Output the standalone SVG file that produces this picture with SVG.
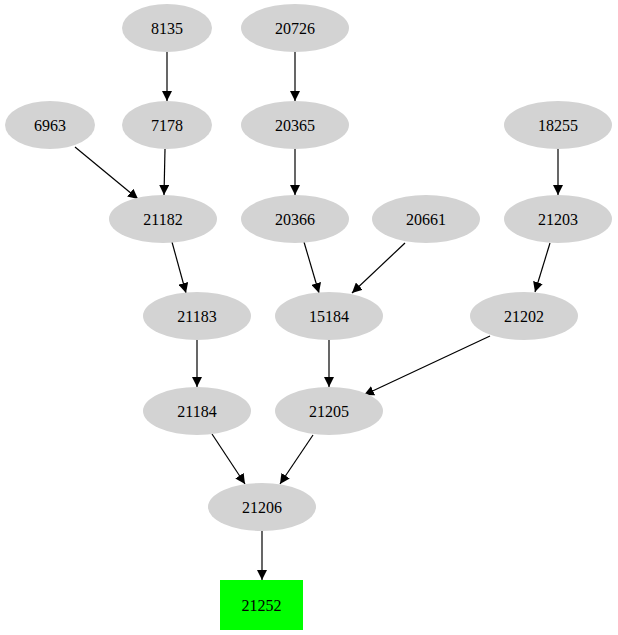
<svg xmlns="http://www.w3.org/2000/svg" width="618" height="635" viewBox="0 0 618 635">
<style>
.n ellipse{fill:#d3d3d3}
.n text{font-family:"Liberation Serif",serif;font-size:16px;text-anchor:middle;dominant-baseline:central;fill:#000}
#edges line{stroke:#000;stroke-width:1.2;marker-end:url(#a)}
</style>
<defs><marker id="a" markerUnits="userSpaceOnUse" markerWidth="12" markerHeight="10" refX="10" refY="5" orient="auto"><path d="M0,0L10,5L0,10z" fill="#000"/></marker></defs>
<rect width="618" height="635" fill="#fff"/>
<g id="edges">
<line x1="167" y1="52" x2="167" y2="101"/>
<line x1="295" y1="52" x2="295" y2="101"/>
<line x1="75" y1="147" x2="138" y2="199"/>
<line x1="165" y1="149" x2="164" y2="195"/>
<line x1="295" y1="149" x2="295" y2="195"/>
<line x1="558" y1="149" x2="558" y2="195"/>
<line x1="172" y1="242" x2="186" y2="293"/>
<line x1="304" y1="242" x2="319" y2="293"/>
<line x1="405" y1="243" x2="352" y2="293"/>
<line x1="550" y1="243" x2="535" y2="292"/>
<line x1="197" y1="340" x2="197" y2="387"/>
<line x1="329" y1="340" x2="329" y2="387"/>
<line x1="490" y1="336" x2="364" y2="395"/>
<line x1="212" y1="434" x2="245" y2="484"/>
<line x1="313" y1="435" x2="280" y2="484"/>
<line x1="262" y1="531" x2="262" y2="580"/>
</g>
<g id="n8135" class="n"><ellipse cx="167" cy="28" rx="45" ry="24"/><text x="167" y="28">8135</text></g>
<g id="n20726" class="n"><ellipse cx="295" cy="28" rx="54" ry="24"/><text x="295" y="28">20726</text></g>
<g id="n6963" class="n"><ellipse cx="50" cy="125" rx="45" ry="24"/><text x="50" y="125">6963</text></g>
<g id="n7178" class="n"><ellipse cx="167" cy="125" rx="45" ry="24"/><text x="167" y="125">7178</text></g>
<g id="n20365" class="n"><ellipse cx="295" cy="125" rx="54" ry="24"/><text x="295" y="125">20365</text></g>
<g id="n18255" class="n"><ellipse cx="558" cy="125" rx="54" ry="24"/><text x="558" y="125">18255</text></g>
<g id="n21182" class="n"><ellipse cx="163" cy="219" rx="54" ry="24"/><text x="163" y="219">21182</text></g>
<g id="n20366" class="n"><ellipse cx="295" cy="219" rx="54" ry="24"/><text x="295" y="219">20366</text></g>
<g id="n20661" class="n"><ellipse cx="426" cy="219" rx="54" ry="24"/><text x="426" y="219">20661</text></g>
<g id="n21203" class="n"><ellipse cx="558" cy="219" rx="54" ry="24"/><text x="558" y="219">21203</text></g>
<g id="n21183" class="n"><ellipse cx="197" cy="316" rx="54" ry="24"/><text x="197" y="316">21183</text></g>
<g id="n15184" class="n"><ellipse cx="329" cy="316" rx="54" ry="24"/><text x="329" y="316">15184</text></g>
<g id="n21202" class="n"><ellipse cx="524" cy="316" rx="54" ry="24"/><text x="524" y="316">21202</text></g>
<g id="n21184" class="n"><ellipse cx="197" cy="411" rx="54" ry="24"/><text x="197" y="411">21184</text></g>
<g id="n21205" class="n"><ellipse cx="329" cy="411" rx="54" ry="24"/><text x="329" y="411">21205</text></g>
<g id="n21206" class="n"><ellipse cx="262" cy="507" rx="54" ry="24"/><text x="262" y="507">21206</text></g>
<g id="n21252" class="n"><rect x="220" y="580" width="83" height="50" fill="#00ff00"/><text x="261.5" y="605">21252</text></g>
</svg>
